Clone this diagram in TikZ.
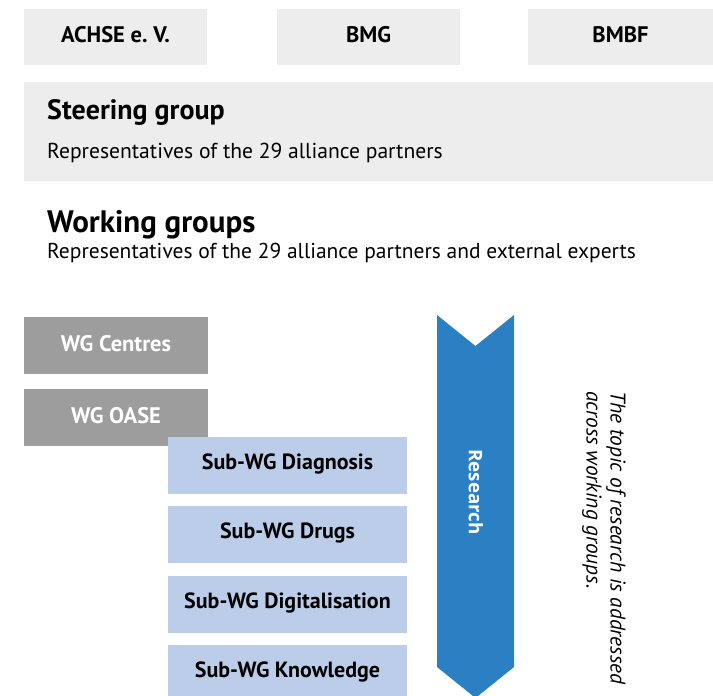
\documentclass[tikz,border=0pt]{standalone}
\usepackage{fontspec}
\setmainfont{PT Sans}
\newfontfamily\resfont{Open Sans}
\definecolor{lightgr}{HTML}{EDEDED}
\definecolor{darkgr}{HTML}{9D9D9D}
\definecolor{lightbl}{HTML}{BBCDE9}
\definecolor{arrowbl}{HTML}{2B80C4}
\tikzset{
  topbox/.style={fill=lightgr, minimum width=183pt, minimum height=56pt, inner sep=0pt},
  wgbox/.style={fill=darkgr, minimum width=184pt, minimum height=57pt, inner sep=0pt},
  subbox/.style={fill=lightbl, minimum width=239pt, minimum height=57pt, inner sep=0pt},
  boxtext/.style={inner sep=0pt, yshift=2pt, font=\fontsize{22.5}{26}\selectfont\bfseries},
  lbl/.style={anchor=base west, inner sep=0pt},
}
\begin{document}
\begin{tikzpicture}[x=1pt,y=-1pt]
\clip (0,0) rectangle (713,696);
\fill[white] (0,0) rectangle (713,696);
% top boxes
\node[topbox] (achse) at (115.5,36.5) {};
\node[boxtext] (achset) at (achse.center) {ACHSE e.~V.};
\node[topbox] (bmg) at (368.5,36.5) {};
\node[boxtext] (bmgt) at (bmg.center) {BMG};
\node[topbox, minimum width=185pt] (bmbf) at (620.5,36.5) {};
\node[boxtext] (bmbft) at (bmbf.center) {BMBF};
% steering group
\node[fill=lightgr, minimum width=689pt, minimum height=99pt, inner sep=0pt] (steer) at (368.5,131.5) {};
\node[lbl, font=\fontsize{28}{32}\selectfont\bfseries] (steertitle) at (47,119) {Steering group};
\node[lbl, font=\fontsize{21.6}{25}\selectfont] (steertext) at (47,158) {Representatives of the 29 alliance partners};
% working groups
\node[lbl, font=\fontsize{31}{36}\selectfont\bfseries] (wgtitle) at (47,232) {Working groups};
\node[lbl, font=\fontsize{21.5}{25}\selectfont] (wgtext) at (47,258) {Representatives of the 29 alliance partners and external experts};
% WG boxes
\node[wgbox] (centres) at (116,345.5) {};
\node[boxtext, text=white] (centrest) at (centres.center) {WG Centres};
\node[wgbox] (oase) at (116,417.5) {};
\node[boxtext, text=white] (oaset) at (oase.center) {WG OASE};
% sub-WG boxes
\node[subbox] (diag) at (287.5,465.5) {};
\node[boxtext, font=\fontsize{22}{26}\selectfont\bfseries] (diagt) at (diag.center) {Sub-WG Diagnosis};
\node[subbox] (drugs) at (287.5,534.5) {};
\node[boxtext, font=\fontsize{22}{26}\selectfont\bfseries] (drugst) at (drugs.center) {Sub-WG Drugs};
\node[subbox] (digi) at (287.5,604.5) {};
\node[boxtext, font=\fontsize{22}{26}\selectfont\bfseries] (digit) at (digi.center) {Sub-WG Digitalisation};
\node[subbox] (know) at (287.5,673.5) {};
\node[boxtext, font=\fontsize{22}{26}\selectfont\bfseries] (knowt) at (know.center) {Sub-WG Knowledge};
% research arrow
\fill[arrowbl] (437,315) -- (475.5,346) -- (514,315) -- (514,667) -- (475.5,698) -- (437,667) -- cycle;
\node[rotate=-90, text=white, font=\resfont\fontsize{18.7}{22}\selectfont\bfseries] (research) at (476,492) {Research};
% italic note
\node[rotate=-90, anchor=north west, align=left, inner sep=0pt, font=\fontsize{21.3}{24}\selectfont\itshape] (note) at (626,391) {The topic of research is addressed\\across working groups.};
\end{tikzpicture}
\end{document}
